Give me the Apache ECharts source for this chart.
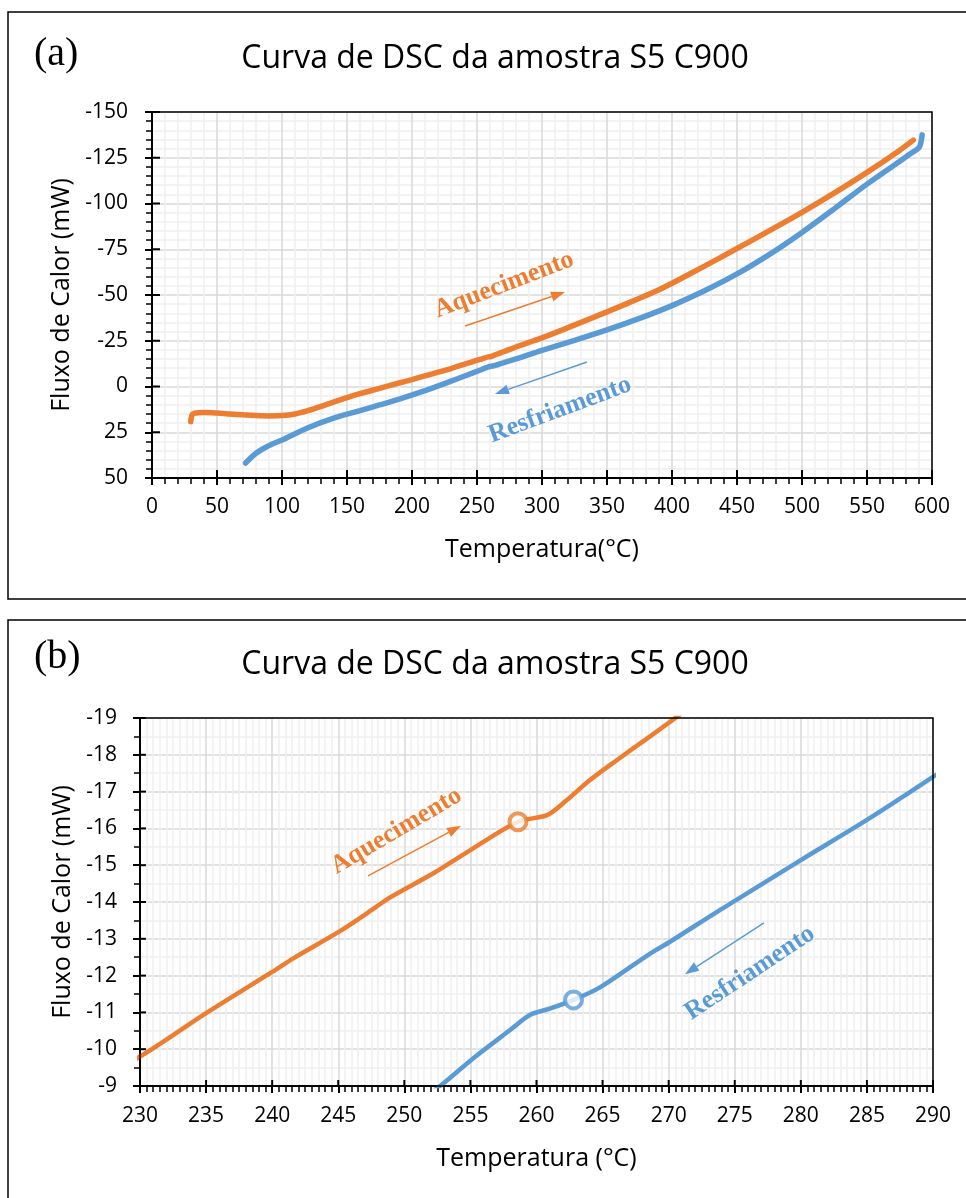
<!DOCTYPE html>
<html>
<head>
<meta charset="utf-8">
<script src="https://cdn.jsdelivr.net/npm/echarts@6/dist/echarts.min.js"></script>
<style>
  html, body { margin: 0; padding: 0; background: #fff; }
  #chart { width: 966px; height: 1198px; }
</style>
</head>
<body>
<div id="chart"></div>
<script>
// Heating run (Aquecimento): temperature in °C and heat flow in mW
const heatT = [29.8, 30.2, 31, 33, 36, 40, 50, 60, 70, 80, 90, 100, 110, 120, 130, 140, 150, 160, 175, 190,
  200, 210, 220, 230, 235, 240, 241.6, 245, 247.2, 248.9, 252.2, 255, 258.6, 260.8, 262.3, 264, 266.1, 268,
  270.5, 280, 290, 300, 317.7, 350, 375, 390.8, 400, 425, 450, 475, 500, 525, 550, 575, 585.6];
const heatF = [19.2, 17, 15.3, 14.6, 14.3, 14.2, 14.5, 15, 15.5, 15.9, 16.1, 15.9, 15.0, 13.2, 10.9, 8.4, 6.1, 3.9, 1.0, -1.9,
  -3.8, -5.8, -7.8, -9.8, -10.98, -12.1, -12.47, -13.18, -13.7, -14.12, -14.78, -15.41, -16.18, -16.36, -16.77, -17.3, -17.86, -18.35,
  -19.0, -21.6, -24.1, -26.6, -31.5, -40.8, -48.2, -53.2, -56.4, -65.8, -75.4, -85.2, -95.2, -105.8, -117.0, -129.0, -134.6];

// Cooling run (Resfriamento), recorded from the highest temperature downwards
const coolT = [592.4, 591.5, 590, 583, 575, 550, 525, 500, 475, 450, 425, 400, 375, 350, 325, 300, 290,
  285, 280, 275.1, 273.6, 270.1, 268.6, 264.8, 262.8, 261, 259.5, 258, 255.2, 252.7, 240, 230, 210, 190.8, 175,
  160, 139.2, 120, 100, 88.2, 80, 72];
const coolF = [-137.5, -133.5, -130.5, -127, -123, -110.6, -97.2, -84.2, -72.2, -61.5, -52.3, -44.2, -37.2, -30.9, -25.2, -19.8, -17.4,
  -16.23, -15.14, -14.05, -13.72, -12.92, -12.6, -11.68, -11.34, -11.1, -10.93, -10.52, -9.75, -9.0, -5.6, -2.9, 2.3, 6.8, 10.1,
  13.2, 17.4, 22.5, 29.2, 32.9, 36.5, 41.8];

// Transition points circled on the detail view
const heatMark = [258.6, -16.18];
const coolMark = [262.8, -11.34];

// Tick values of both panels
const xTicksA = [0, 50, 100, 150, 200, 250, 300, 350, 400, 450, 500, 550, 600];
const yTicksA = [-150, -125, -100, -75, -50, -25, 0, 25, 50];
const xTicksB = [230, 235, 240, 245, 250, 255, 260, 265, 270, 275, 280, 285, 290];
const yTicksB = [-19, -18, -17, -16, -15, -14, -13, -12, -11, -10, -9];

const SANS = '"Open Sans", "Noto Sans", sans-serif';
const SERIF = '"Liberation Serif", "DejaVu Serif", serif';
const ORANGE = '#ED7D31';
const BLUE = '#5B9BD5';

const zip = (xs, ys) => xs.map((x, i) => [x, ys[i]]);
const heatPts = zip(heatT, heatF);
const coolPts = zip(coolT, coolF);

function valueAxis(ticks, minorSplit, gridIndex, labelMargin, extra) {
  const base = {
    type: 'value',
    gridIndex,
    min: ticks[0],
    max: ticks[ticks.length - 1],
    interval: ticks[1] - ticks[0],
    axisLine: { show: true, onZero: false, lineStyle: { color: '#000', width: 2 } },
    axisTick: { show: true, inside: false, length: 7, lineStyle: { color: '#000', width: 2 } },
    minorTick: { show: true, splitNumber: minorSplit, length: 6, lineStyle: { color: '#000', width: 1.5 } },
    axisLabel: { color: '#000', fontFamily: SANS, fontSize: 21, margin: labelMargin, showMinLabel: true, showMaxLabel: true },
    splitLine: { show: true, lineStyle: { color: '#d9d9d9', width: 1.5 } },
    minorSplitLine: { show: true, lineStyle: { color: '#efefef', width: 1.5 } },
    nameLocation: 'middle',
    nameTextStyle: { color: '#000', fontFamily: SANS, fontSize: 25 }
  };
  return Object.assign(base, extra);
}

const chart = echarts.init(document.getElementById('chart'), null, { renderer: 'canvas', width: 966, height: 1198 });

chart.setOption({
  animation: false,
  backgroundColor: '#fff',
  grid: [
    { left: 152, top: 112, width: 780, height: 366, containLabel: false },
    { left: 140, top: 718, width: 793, height: 368, containLabel: false }
  ],
  xAxis: [
    valueAxis(xTicksA, 5, 0, 19, { name: 'Temperatura(°C)', nameGap: 59 }),
    valueAxis(xTicksB, 10, 1, 20, { name: 'Temperatura (°C)', nameGap: 60 })
  ],
  yAxis: [
    valueAxis(yTicksA, 5, 0, 24, { inverse: true, name: 'Fluxo de Calor (mW)', nameGap: 76 }),
    valueAxis(yTicksB, 2, 1, 23, { inverse: true, name: 'Fluxo de Calor (mW)', nameGap: 64 })
  ],
  series: [
    { type: 'line', name: 'Aquecimento', xAxisIndex: 0, yAxisIndex: 0, data: heatPts, showSymbol: false, smooth: 0.3,
      lineStyle: { color: ORANGE, width: 5.5, cap: 'round' }, z: 3 },
    { type: 'line', name: 'Resfriamento', xAxisIndex: 0, yAxisIndex: 0, data: coolPts, showSymbol: false, smooth: 0.3,
      lineStyle: { color: BLUE, width: 5.5, cap: 'round' }, z: 4 },
    { type: 'line', name: 'Aquecimento', xAxisIndex: 1, yAxisIndex: 1, data: heatPts, showSymbol: false, smooth: 0.3,
      lineStyle: { color: ORANGE, width: 4.5 }, z: 3 },
    { type: 'line', name: 'Resfriamento', xAxisIndex: 1, yAxisIndex: 1, data: coolPts, showSymbol: false, smooth: 0.3,
      lineStyle: { color: BLUE, width: 4.5 }, z: 4 },
    { type: 'scatter', xAxisIndex: 1, yAxisIndex: 1, data: [heatMark], symbol: 'circle', symbolSize: 17,
      itemStyle: { color: '#fff', borderColor: ORANGE, borderWidth: 4 }, z: 6 },
    { type: 'scatter', xAxisIndex: 1, yAxisIndex: 1, data: [coolMark], symbol: 'circle', symbolSize: 17,
      itemStyle: { color: '#fff', borderColor: BLUE, borderWidth: 4 }, z: 6 }
  ]
});

// Hand-placed notes (data coordinates) with their direction arrows
const notes = [
  { grid: 0, text: 'Aquecimento', color: ORANGE, at: [270.8, -55.5], angle: 21, arrow: [[240.8, -33.1], [317.7, -51.6]] },
  { grid: 0, text: 'Resfriamento', color: BLUE, at: [313.8, 12.8], angle: 20.4, arrow: [[334.6, -13.4], [263.8, 4.1]] },
  { grid: 1, text: 'Aquecimento', color: ORANGE, at: [249.4, -15.93], angle: 30.6, arrow: [[247.25, -14.71], [254.29, -16.07]] },
  { grid: 1, text: 'Resfriamento', color: BLUE, at: [276.15, -12.07], angle: 33.7, arrow: [[277.21, -13.43], [271.23, -12.04]] }
];

const px = (g, p) => chart.convertToPixel({ gridIndex: g }, p);
const graphics = [];

// Panel frames
graphics.push({ type: 'rect', shape: { x: 8, y: 12, width: 990, height: 587 },
  style: { fill: null, stroke: '#000', lineWidth: 1.5 }, z: 1 });
graphics.push({ type: 'rect', shape: { x: 8, y: 620, width: 990, height: 600 },
  style: { fill: null, stroke: '#000', lineWidth: 1.5 }, z: 1 });

// Panel letters and titles
[['(a)', 54, 59], ['(b)', 657, 665]].forEach(([lab, ly, ty]) => {
  graphics.push({ type: 'text', x: 34, y: ly, z: 50,
    style: { text: lab, font: '40px ' + SERIF, fill: '#000', align: 'left', verticalAlign: 'middle' } });
  graphics.push({ type: 'text', x: 495, y: ty, z: 50,
    style: { text: 'Curva de DSC da amostra S5 C900', font: '32px ' + SANS, fill: '#000', align: 'center', verticalAlign: 'middle' } });
});

// Plot-area outline and the inner half of each major tick
[[xTicksA, yTicksA, 0, 8], [xTicksB, yTicksB, 1, 6]].forEach(([xt, yt, g, inLen]) => {
  const x0 = xt[0], x1 = xt[xt.length - 1], y0 = yt[0], y1 = yt[yt.length - 1];
  const a = px(g, [x0, y0]);
  const b = px(g, [x1, y1]);
  graphics.push({ type: 'rect', z: 40,
    shape: { x: Math.min(a[0], b[0]), y: Math.min(a[1], b[1]), width: Math.abs(b[0] - a[0]), height: Math.abs(b[1] - a[1]) },
    style: { fill: null, stroke: '#000', lineWidth: 1.5 } });
  xt.forEach(v => {
    const p = px(g, [v, y1]);
    graphics.push({ type: 'line', z: 41, shape: { x1: p[0], y1: p[1], x2: p[0], y2: p[1] - inLen },
      style: { stroke: '#000', lineWidth: 2 } });
  });
  yt.forEach(v => {
    const p = px(g, [x0, v]);
    graphics.push({ type: 'line', z: 41, shape: { x1: p[0], y1: p[1], x2: p[0] + inLen, y2: p[1] },
      style: { stroke: '#000', lineWidth: 2 } });
  });
});

// Notes and arrows
notes.forEach(n => {
  const c = px(n.grid, n.at);
  graphics.push({ type: 'text', x: c[0], y: c[1], rotation: n.angle * Math.PI / 180, z: 60,
    style: { text: n.text, font: 'bold 26px ' + SERIF, fill: n.color, align: 'center', verticalAlign: 'middle' } });
  const p0 = px(n.grid, n.arrow[0]);
  const p1 = px(n.grid, n.arrow[1]);
  const dx = p1[0] - p0[0], dy = p1[1] - p0[1];
  const len = Math.hypot(dx, dy);
  const ux = dx / len, uy = dy / len;
  const headL = 14, headW = 10;
  const bx = p1[0] - ux * headL, by = p1[1] - uy * headL;
  graphics.push({ type: 'line', z: 60, shape: { x1: p0[0], y1: p0[1], x2: bx, y2: by },
    style: { stroke: n.color, lineWidth: 1.5 } });
  graphics.push({ type: 'polygon', z: 60,
    shape: { points: [[p1[0], p1[1]], [bx - uy * headW / 2, by + ux * headW / 2], [bx + uy * headW / 2, by - ux * headW / 2]] },
    style: { fill: n.color } });
});

chart.setOption({ graphic: graphics });
</script>
</body>
</html>
